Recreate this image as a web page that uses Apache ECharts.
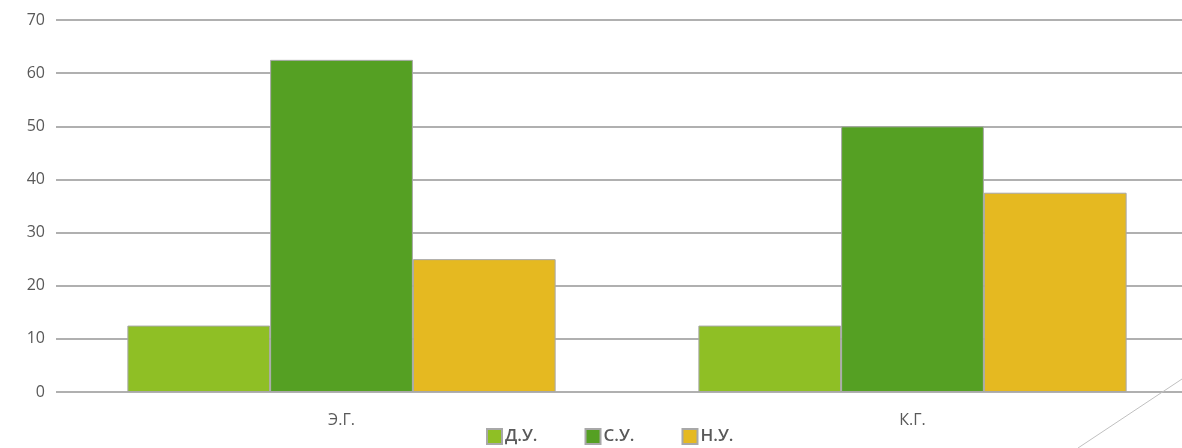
<!DOCTYPE html>
<html>
<head>
<meta charset="utf-8">
<script src="https://cdn.jsdelivr.net/npm/echarts@6/dist/echarts.min.js"></script>
<style>
  html, body { margin: 0; padding: 0; background: #fff; }
  #chart { width: 1182px; height: 448px; }
</style>
</head>
<body>
<div id="chart"></div>
<script>
var categories = ['Э.Г.', 'К.Г.'];
var seriesNames = ['Д.У.', 'С.У.', 'Н.У.'];
var du = [12.5, 12.5];
var su = [62.5, 50];
var nu = [25, 37.5];
var colors = ['#8fbf25', '#55a023', '#e5b921'];

var chartDom = document.getElementById('chart');
var myChart = echarts.init(chartDom);

function bar(name, data, color) {
  return {
    name: name,
    type: 'bar',
    data: data,
    barWidth: '25%',
    barGap: '0%',
    itemStyle: { color: color, borderColor: '#a8a8a8', borderWidth: 1 }
  };
}

var option = {
  textStyle: { fontFamily: 'Open Sans' },
  grid: { left: 56, right: -16, top: 20, bottom: 56, outerBoundsMode: 'none', containLabel: false },
  legend: {
    bottom: -2,
    left: 481,
    icon: 'rect',
    itemWidth: 15,
    itemHeight: 15,
    itemGap: 47,
    textStyle: { fontSize: 17, color: '#595959', fontFamily: 'Open Sans', fontWeight: 600, padding: [0, 0, 0, -2] },
    data: seriesNames
  },
  xAxis: {
    type: 'category',
    data: categories,
    axisLine: { show: false },
    axisTick: { show: false },
    axisLabel: { fontSize: 16, color: '#595959', margin: 20 }
  },
  yAxis: {
    type: 'value',
    min: 0,
    max: 70,
    interval: 10,
    axisLine: { show: false },
    axisTick: { show: false },
    axisLabel: { fontSize: 16, color: '#595959', margin: 11 },
    splitLine: { lineStyle: { color: '#b0b0b0', width: 2 } }
  },
  series: [
    bar(seriesNames[0], du, colors[0]),
    bar(seriesNames[1], su, colors[1]),
    bar(seriesNames[2], nu, colors[2])
  ],
  graphic: [{
    type: 'line',
    shape: { x1: 1182, y1: 379, x2: 1078, y2: 448 },
    style: { stroke: '#c0c0c0', lineWidth: 1 },
    z: 100
  }]
};

myChart.setOption(option);
window.addEventListener('resize', () => myChart.resize());
</script>
</body>
</html>
